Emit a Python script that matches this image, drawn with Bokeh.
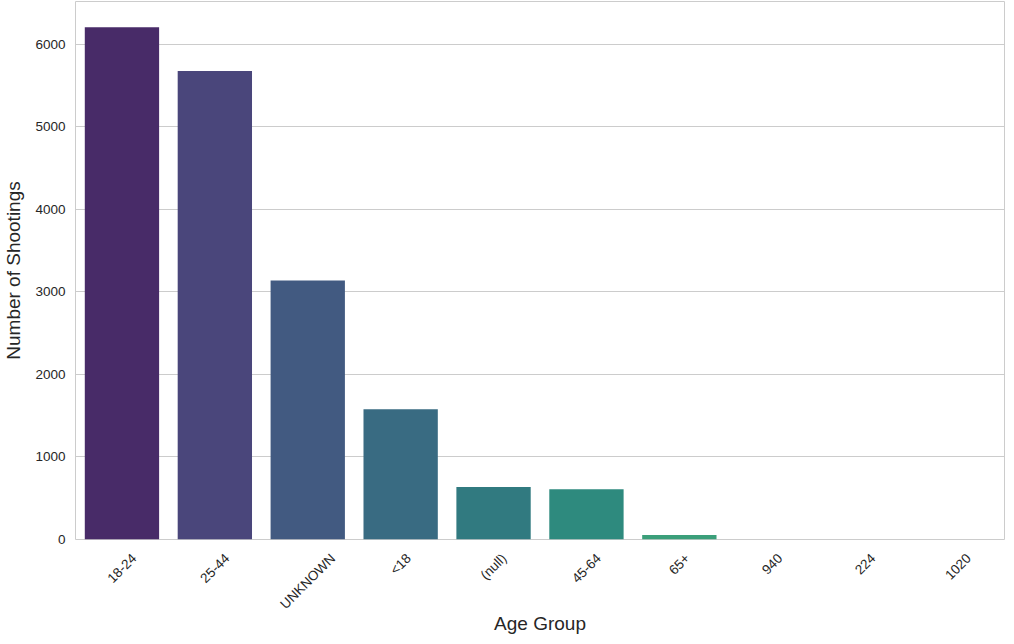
import colorsys
import math
from bokeh.plotting import figure
from bokeh.layouts import column
from bokeh.models import ColumnDataSource, Range1d, FactorRange
from bokeh.core.properties import value
from bokeh.palettes import Viridis256
from bokeh.embed import file_html
from bokeh.resources import INLINE

# ---- data ----
age_groups = ["18-24", "25-44", "UNKNOWN", "<18", "(null)", "45-64", "65+", "940", "224", "1020"]
shootings = [6210, 5680, 3140, 1580, 635, 608, 55, 1, 1, 1]
y_ticks = [0, 1000, 2000, 3000, 4000, 5000, 6000]
x_label = "Age Group"
y_label = "Number of Shootings"

TEXT = "#262626"
FONT = "Liberation Sans"
TICK_PX = 13.5
W_FIG = 1006
LEFT, RIGHT = 74, 2
BOT = 9

# seaborn-like desaturated viridis palette
def desat(hexc, prop=0.75):
    r, g, b = (int(hexc[i:i + 2], 16) / 255 for i in (1, 3, 5))
    h, l, s = colorsys.rgb_to_hls(r, g, b)
    r, g, b = colorsys.hls_to_rgb(h, l, s * prop)
    return "#%02x%02x%02x" % (round(r * 255), round(g * 255), round(b * 255))

n = len(age_groups)
colors = [desat(Viridis256[min(255, round(255 * (i + 1) / (n + 1)))]) for i in range(n)]

# ---- main bar chart ----
p = figure(width=W_FIG, height=539 + BOT, x_range=FactorRange(*age_groups),
           y_range=Range1d(0, 6521), output_backend="svg", toolbar_location=None,
           min_border_left=LEFT, min_border_right=RIGHT, min_border_top=1, min_border_bottom=BOT)

src = ColumnDataSource(dict(cat=age_groups, val=shootings, color=colors))
p.vbar(x="cat", top="val", width=0.8, source=src, fill_color="color", line_color=None)

p.outline_line_color = "#cccccc"
p.outline_line_width = 1
p.xgrid.grid_line_color = None
p.ygrid.grid_line_color = "#cccccc"
p.ygrid.grid_line_width = 1
p.xaxis.visible = False

p.yaxis.ticker = y_ticks
p.yaxis.axis_line_color = None
p.yaxis.major_tick_line_color = None
p.yaxis.minor_tick_line_color = None
p.yaxis.major_tick_out = 0
p.yaxis.major_tick_in = 0
p.yaxis.minor_tick_out = 0
p.yaxis.minor_tick_in = 0
p.yaxis.major_label_text_font = FONT
p.yaxis.major_label_text_font_size = f"{TICK_PX}px"
p.yaxis.major_label_text_color = TEXT
p.yaxis.major_label_standoff = 10
p.yaxis.axis_label = y_label
p.yaxis.axis_label_standoff = 8
p.yaxis.axis_label_text_font = FONT
p.yaxis.axis_label_text_font_size = "19px"
p.yaxis.axis_label_text_font_style = "normal"
p.yaxis.axis_label_text_color = TEXT

# ---- category labels strip (rotated, centred like matplotlib) ----
# approximate Arial/Liberation advance widths (per 1000 em)
Wd = {c: 556 for c in "0123456789nu"}
Wd.update({"-": 333, "<": 584, "+": 584, "(": 333, ")": 333, "l": 222,
           "U": 722, "N": 722, "K": 667, "O": 778, "W": 944})

def half_diag(s):
    L = sum(Wd.get(c, 556) for c in s) / 1000 * TICK_PX
    return (L + 0.75 * TICK_PX) / (2 * math.sqrt(2))

H2 = 644 - (539 + BOT)
lab_y = [-(13 - BOT + half_diag(s)) for s in age_groups]
lab_x = [i + 0.5 for i in range(n)]

p2 = figure(width=W_FIG, height=H2, x_range=Range1d(0, n), y_range=Range1d(-H2, 0),
            output_backend="svg", toolbar_location=None,
            min_border_left=LEFT, min_border_right=RIGHT, min_border_top=0, min_border_bottom=0)
p2.axis.visible = False
p2.grid.visible = False
p2.outline_line_color = None

p2.text(x=lab_x, y=lab_y, text=age_groups, angle=math.pi / 4,
        text_align="center", text_baseline="middle",
        text_font=value(FONT), text_font_size=f"{TICK_PX}px", text_color=TEXT)
p2.text(x=[n / 2], y=[-(623 - 539 - BOT)], text=[x_label], text_align="center",
        text_baseline="middle", text_font=value(FONT), text_font_size="19px", text_color=TEXT)

layout = column(p, p2, spacing=0)
open("out.html", "w").write(file_html(layout, INLINE))
